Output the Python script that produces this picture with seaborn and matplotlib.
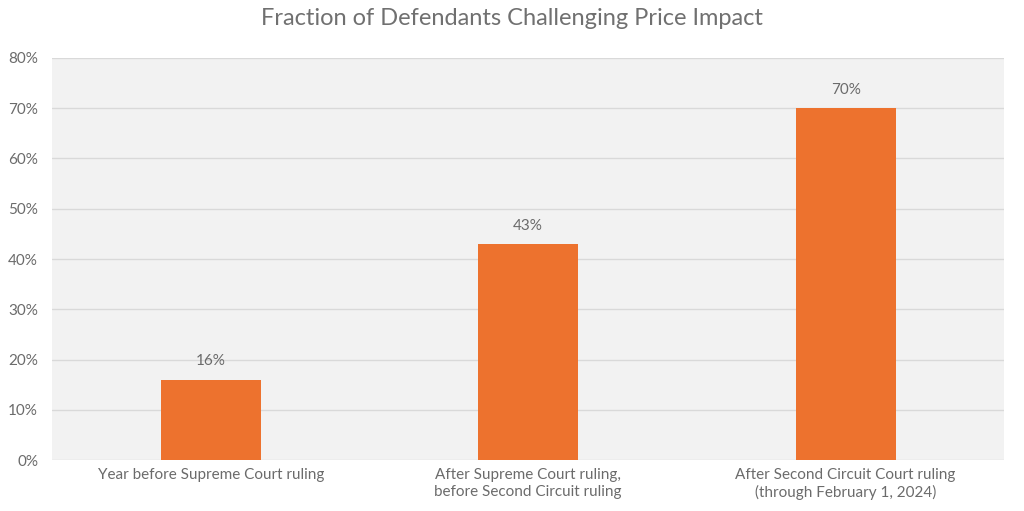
import matplotlib
matplotlib.use("Agg")
import matplotlib.pyplot as plt
import seaborn as sns
import pandas as pd

# ── Data ───────────────────────────────────────────────────────
categories = [
    "Year before Supreme Court ruling",
    "After Supreme Court ruling,\nbefore Second Circuit ruling",
    "After Second Circuit Court ruling\n(through February 1, 2024)",
]
values = [16, 43, 70]
y_ticks = [0, 10, 20, 30, 40, 50, 60, 70, 80]

TEXT = "#6b6b6b"
BAR = "#ED722E"
GRID = "#d9d9d9"

sns.set_style("white")
plt.rcParams["font.family"] = ["Lato", "DejaVu Sans"]

df = pd.DataFrame({"category": categories, "value": values})

fig = plt.figure(figsize=(10.24, 5.11), dpi=100)
ax = fig.add_axes([0.0508, 0.0998, 0.930, 0.7867])
ax.set_facecolor("#f2f2f2")

sns.barplot(data=df, x="category", y="value", color=BAR, width=0.315,
            saturation=1, ax=ax, zorder=3, edgecolor=BAR, linewidth=0)

ax.set_ylim(0, 80)
ax.set_yticks(y_ticks)
ax.set_yticklabels([f"{t}%" for t in y_ticks])
ax.yaxis.grid(True, color=GRID, linewidth=1, zorder=0)
ax.set_axisbelow(True)
for s in ax.spines.values():
    s.set_visible(False)
ax.tick_params(axis="both", length=0, labelsize=11, labelcolor=TEXT)
ax.tick_params(axis="y", pad=10)
ax.tick_params(axis="x", pad=6)
ax.set_xlabel("")
ax.set_ylabel("")

for p, v in zip(ax.patches, values):
    ax.annotate(f"{v}%", (p.get_x() + p.get_width() / 2, p.get_height()),
                xytext=(0, 8), textcoords="offset points",
                ha="center", va="bottom", fontsize=11, color=TEXT)

fig.suptitle("Fraction of Defendants Challenging Price Impact",
             fontsize=17, color="#707070", y=0.985, va="top")

fig.savefig("out.png", dpi=100, facecolor="white")
